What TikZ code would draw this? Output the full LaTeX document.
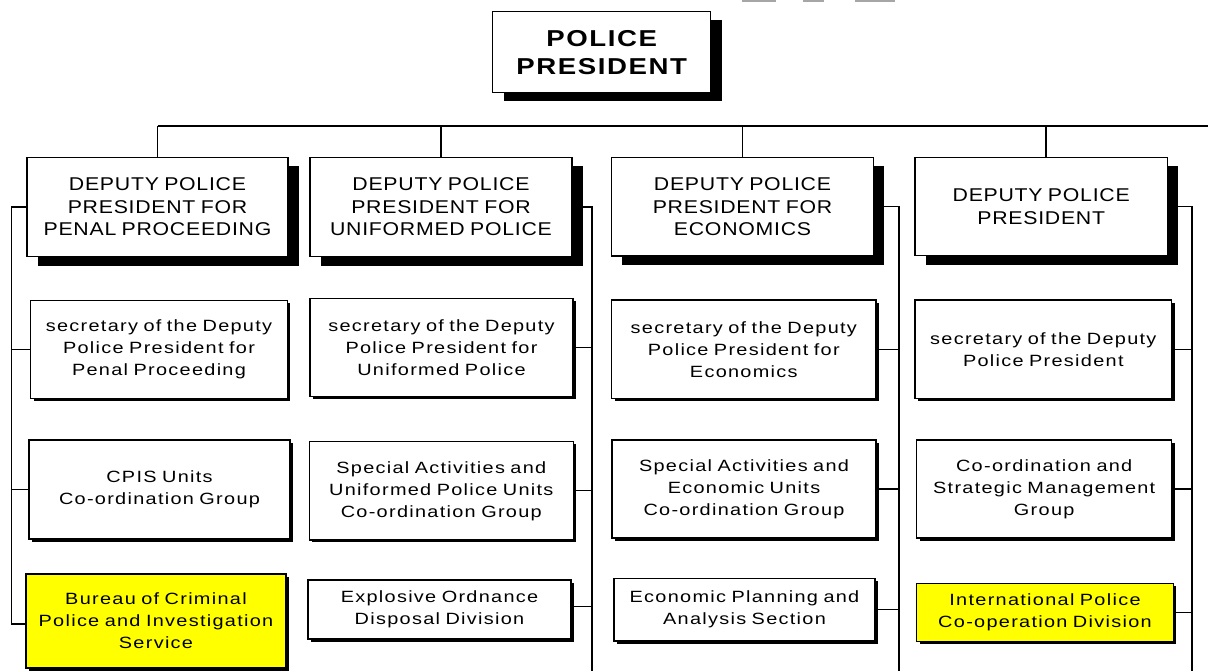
\documentclass[tikz,border=0pt]{standalone}
\usepackage{fontspec}
\setmainfont{Liberation Sans}
\newfontfamily\smallfnt[FakeStretch=1.22,LetterSpace=8,WordSpace=0.8]{Liberation Sans}
\newfontfamily\capfnt[FakeStretch=1.15,LetterSpace=4,WordSpace=0.8]{Liberation Sans}
\newfontfamily\presfnt[FakeStretch=1.2,LetterSpace=7]{Liberation Sans}
\usetikzlibrary{shadows}
\definecolor{boxyellow}{RGB}{255,255,0}
\begin{document}
\begin{tikzpicture}[x=1pt,y=-1pt,
  box/.style={draw=black, line width=1.3pt, fill=white, inner sep=0pt, align=center, text=black},
  yellowbox/.style={box, fill=boxyellow},
  bigshadow/.style={drop shadow={shadow xshift=10.5pt, shadow yshift=-9pt, fill=black, opacity=1}},
  presshadow/.style={drop shadow={shadow xshift=11.5pt, shadow yshift=-8.7pt, fill=black, opacity=1}},
  smallshadow/.style={drop shadow={shadow xshift=3pt, shadow yshift=-2.5pt, fill=black, opacity=1}},
  deputy/.style={box, bigshadow, font={\capfnt\fontsize{18.5}{22.5}\selectfont}},
  unitbox/.style={box, smallshadow, font={\smallfnt\fontsize{16.3}{22}\selectfont}},
  yunitbox/.style={yellowbox, smallshadow, font={\smallfnt\fontsize{16.3}{22}\selectfont}},
  conn/.style={draw=black, line width=1.2pt}]
\useasboundingbox (0,0) rectangle (1208,671);
\fill[white] (0,0) rectangle (1208,671);

% faint marks at the top edge
\draw[black!35, line width=1.6pt] (741.7,0.8) -- (776,0.8);
\draw[black!35, line width=1.6pt] (802.7,0.8) -- (824.3,0.8);
\draw[black!35, line width=1.6pt] (855,0.8) -- (895,0.8);

% president
\node[box, presshadow, minimum width=218pt, minimum height=81pt,
      font={\presfnt\bfseries\fontsize{23}{28}\selectfont}] (P) at (601.7,52.3) {POLICE\\PRESIDENT};

% deputies
\node[deputy, minimum width=261pt, minimum height=99.4pt] (D1) at (157.5,207) {DEPUTY POLICE\\PRESIDENT FOR\\PENAL PROCEEDING};
\node[deputy, minimum width=262pt, minimum height=99.4pt] (D2) at (441,207) {DEPUTY POLICE\\PRESIDENT FOR\\UNIFORMED POLICE};
\node[deputy, minimum width=261.6pt, minimum height=98.7pt] (D3) at (742.5,206.7) {DEPUTY POLICE\\PRESIDENT FOR\\ECONOMICS};
\node[deputy, minimum width=252.3pt, minimum height=98.4pt] (D4) at (1041.2,206.5) {DEPUTY POLICE\\PRESIDENT};

% secretaries
\node[unitbox, minimum width=256.6pt, minimum height=97.6pt] (S1) at (159,349.5) {secretary of the Deputy\\Police President for\\Penal Proceeding};
\node[unitbox, minimum width=263pt, minimum height=98pt] (S2) at (441.5,347.5) {secretary of the Deputy\\Police President for\\Uniformed Police};
\node[unitbox, minimum width=264.3pt, minimum height=98.3pt] (S3) at (743.8,349.2) {secretary of the Deputy\\Police President for\\Economics};
\node[unitbox, minimum width=256.7pt, minimum height=98.3pt] (S4) at (1043.3,349.2) {secretary of the Deputy\\Police President};

% co-ordination groups
\node[unitbox, minimum width=261pt, minimum height=99pt] (C1) at (159.5,489.5) {CPIS Units\\Co-ordination Group};
\node[unitbox, minimum width=264pt, minimum height=98.3pt] (C2) at (441.3,490.8) {Special Activities and\\Uniformed Police Units\\Co-ordination Group};
\node[unitbox, minimum width=264pt, minimum height=98pt] (C3) at (744,489) {Special Activities and\\Economic Units\\Co-ordination Group};
\node[unitbox, minimum width=255pt, minimum height=98pt] (C4) at (1044.2,489) {Co-ordination and\\Strategic Management\\Group};

% bottom row
\node[yunitbox, minimum width=260pt, minimum height=94pt] (B1) at (156,621) {Bureau of Criminal\\Police and Investigation\\Service};
\node[unitbox, minimum width=263pt, minimum height=59pt] (E2) at (439.5,609.5) {Explosive Ordnance\\Disposal Division};
\node[unitbox, minimum width=261pt, minimum height=62.7pt] (P3) at (744.5,609.7) {Economic Planning and\\Analysis Section};
\node[yunitbox, minimum width=256.6pt, minimum height=58.4pt] (I4) at (1045,612.5) {International Police\\Co-operation Division};

% top bus
\coordinate (hL) at (157.5,126);
\coordinate (hR) at (1208,126);
\draw[conn] (hL) -- (hR);
\draw[conn] (D1.north) -- (hL);
\draw[conn] (D2.north) -- (D2.north |- hL);
\draw[conn] (D3.north) -- (D3.north |- hL);
\draw[conn] ([xshift=4.8pt]D4.north) -- ([xshift=4.8pt]D4.north |- hL);

% column buses
\coordinate (b1) at (11.5,0);
\coordinate (b2) at (592,671);
\coordinate (b3) at (899,671);
\coordinate (b4) at (1192,671);

\draw[conn] (D1.west) -- (D1.west -| b1) -- ([yshift=-3pt]B1.west -| b1) -- ([yshift=-3pt]B1.west);
\draw[conn] (S1.west) -- (S1.west -| b1);
\draw[conn] (C1.west) -- (C1.west -| b1);

\draw[conn] ([xshift=10pt]D2.east) -- (D2.east -| b2) -- (b2);
\draw[conn] (S2.east) -- (S2.east -| b2);
\draw[conn] (C2.east) -- (C2.east -| b2);
\draw[conn] ([yshift=3pt]E2.east) -- ([yshift=3pt]E2.east -| b2);

\draw[conn] ([xshift=10pt]D3.east) -- (D3.east -| b3) -- (b3);
\draw[conn] (S3.east) -- (S3.east -| b3);
\draw[conn] (C3.east) -- (C3.east -| b3);
\draw[conn] (P3.east) -- (P3.east -| b3);

\draw[conn] ([xshift=10pt]D4.east) -- (D4.east -| b4) -- (b4);
\draw[conn] (S4.east) -- (S4.east -| b4);
\draw[conn] (C4.east) -- (C4.east -| b4);
\draw[conn] (I4.east) -- (I4.east -| b4);
\end{tikzpicture}
\end{document}
